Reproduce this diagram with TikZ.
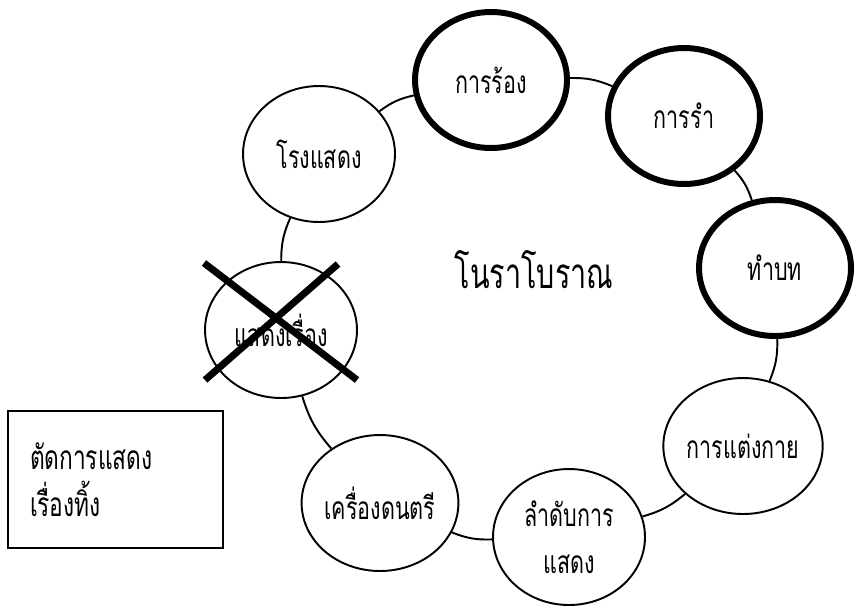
\documentclass[tikz,border=0pt]{standalone}
\usepackage{fontspec}
\newfontfamily\thaifont[Script=Thai,FakeStretch=0.68]{Loma}
\usetikzlibrary{shapes.geometric}

\begin{document}
\begin{tikzpicture}[x=0.02cm,y=-0.02cm]
    \tikzstyle{topic} = [shape=ellipse, draw=black, line width=1.1pt, fill=white, inner sep=0, minimum width=3.04cm, minimum height=2.72cm, align=center, font=\thaifont\fontsize{18}{27}\selectfont]
    \tikzstyle{keytopic} = [topic, line width=3.4pt]
    \tikzstyle{link} = [black, line width=1.1pt]
    \tikzstyle{cross} = [black, line width=4pt]
    \useasboundingbox (0,0) rectangle (854,606);

    \node[keytopic] (song) at (491,80) {การร้อง};
    \node[keytopic] (dance) at (684,116) {การรำ};
    \node[keytopic] (script) at (775,268) {ทำบท};
    \node[topic] (costume) at (743,446) {การแต่งกาย};
    \node[topic] (order) at (569,537) {ลำดับการ\\แสดง};
    \node[topic] (music) at (380,503) {เครื่องดนตรี};
    \node[topic] (story) at (281,330) {แสดงเรื่อง};
    \node[topic] (stage) at (319,154) {โรงแสดง};

    \draw[link] (song) edge[bend left=12] (dance);
    \draw[link] (dance) edge[bend left=12] (script);
    \draw[link] (script) edge[bend left=12] (costume);
    \draw[link] (costume) edge[bend left=12] (order);
    \draw[link] (order) edge[bend left=12] (music);
    \draw[link] (music) edge[bend left=12] (story);
    \draw[link] (story) edge[bend left=12] (stage);
    \draw[link] (stage) edge[bend left=12] (song);

    \node[font=\thaifont\fontsize{24}{28}\selectfont] (title) at (534,270) {โนราโบราณ};

    \node[draw=black, line width=1.1pt, inner xsep=0.44cm, inner ysep=0, minimum width=4.3cm, minimum height=2.74cm, text width=3.42cm, align=left, font=\thaifont\fontsize{19}{27}\selectfont] (cut) at (115.5,479.5) {ตัดการแสดง\\เรื่องทิ้ง};

    \draw[cross] (204,263) -- (357,380);
    \draw[cross] (338,264) -- (205,380);
\end{tikzpicture}
\end{document}
